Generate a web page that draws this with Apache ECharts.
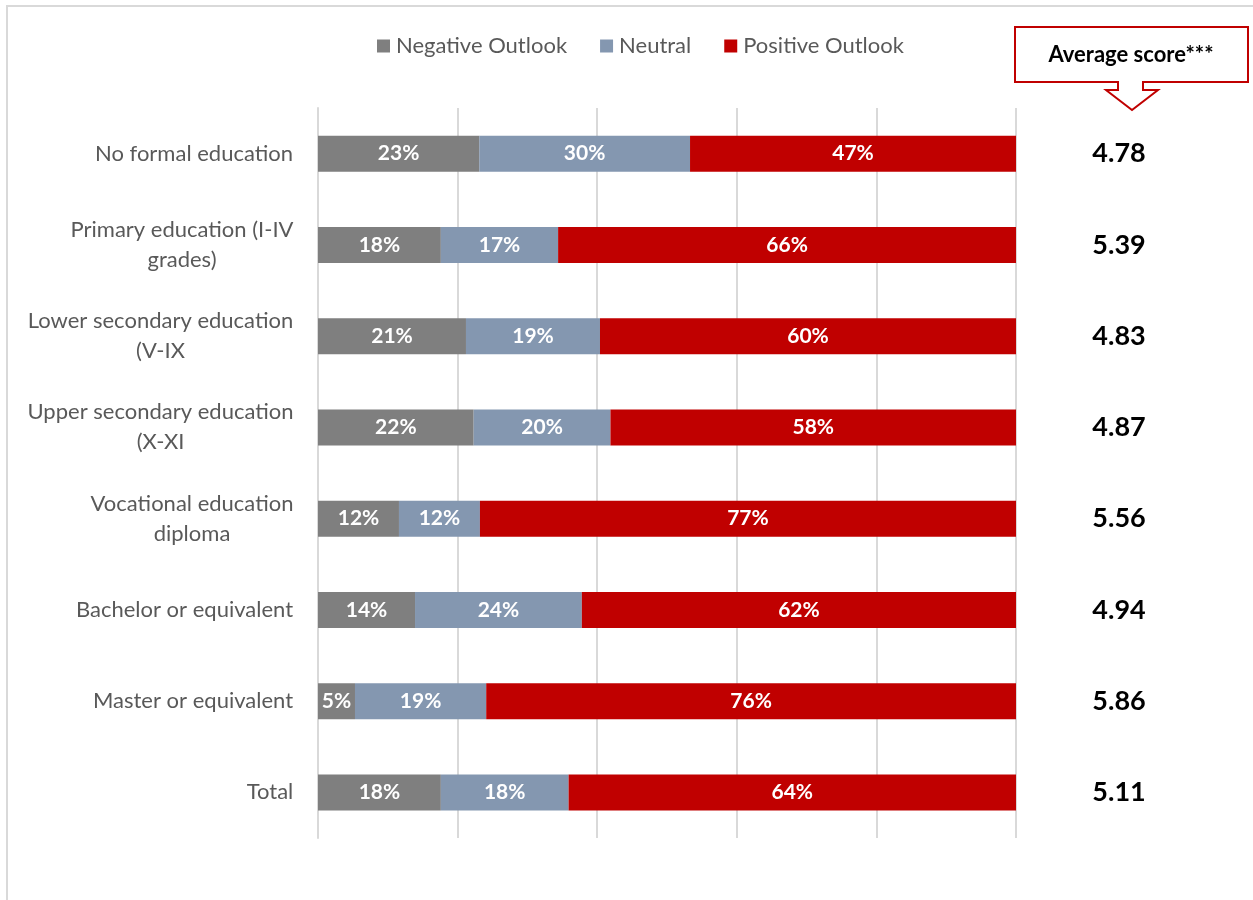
<!DOCTYPE html>
<html>
<head>
<meta charset="utf-8">
<script src="https://cdn.jsdelivr.net/npm/echarts@6/dist/echarts.min.js"></script>
<style>
  html, body { margin: 0; padding: 0; background: #fff; }
  #chart { width: 1253px; height: 900px; }
</style>
</head>
<body>
<div id="chart"></div>
<script>
  // categories, top to bottom
  var categories = [
    'No formal education',
    'Primary education (I-IV\ngrades)',
    'Lower secondary education\n(V-IX',
    'Upper secondary education\n(X-XI',
    'Vocational education\ndiploma',
    'Bachelor or equivalent',
    'Master or equivalent',
    'Total'
  ];
  var seriesNames = ['Negative Outlook', 'Neutral', 'Positive Outlook'];
  var negative = [23.1, 17.6, 21.2, 22.3, 11.6, 13.9, 5.3, 17.6];
  var neutral = [30.2, 16.8, 19.2, 19.6, 11.6, 23.9, 18.8, 18.3];
  var positive = [46.7, 65.6, 59.6, 58.1, 76.8, 62.2, 75.9, 64.1];
  var scores = ['4.78', '5.39', '4.83', '4.87', '5.56', '4.94', '5.86', '5.11'];
  var colors = ['#7f7f7f', '#8497b0', '#c00000'];

  var FONT = 'Lato, "Open Sans", sans-serif';
  var textC = '#595959';
  var labelSize = 22;

  // centre the lines of the two-line labels under each other
  var ctx = document.createElement('canvas').getContext('2d');
  ctx.font = labelSize + 'px Lato';
  var richLabels = {};
  categories.forEach(function(c, i) {
    var w = 0;
    c.split('\n').forEach(function(l) { w = Math.max(w, ctx.measureText(l).width); });
    richLabels['c' + i] = {
      width: Math.ceil(w) + 1,
      align: 'center',
      fontSize: labelSize,
      fontFamily: FONT,
      color: textC,
      lineHeight: 30
    };
  });

  function barSeries(name, data, color) {
    return {
      name: name,
      type: 'bar',
      stack: 'total',
      barWidth: 36,
      data: data,
      itemStyle: { color: color },
      label: {
        show: true,
        position: 'inside',
        color: '#fff',
        fontFamily: FONT,
        fontWeight: 'bold',
        fontSize: 21,
        formatter: function(p) { return Math.round(p.value) + '%'; }
      }
    };
  }

  var chart = echarts.init(document.getElementById('chart'));
  chart.setOption({
    animation: false,
    color: colors,
    legend: {
      data: seriesNames,
      left: 372,
      top: 30,
      icon: 'rect',
      itemWidth: 13,
      itemHeight: 13,
      itemGap: 33,
      textStyle: { color: textC, fontSize: 22, fontFamily: FONT, padding: [0, 0, 0, 1] }
    },
    grid: { left: 318, right: 237, top: 108, bottom: 62, containLabel: false },
    xAxis: {
      type: 'value',
      min: 0,
      max: 100,
      interval: 20,
      axisLabel: { show: false },
      axisLine: { show: false },
      axisTick: { show: false },
      splitLine: { lineStyle: { color: '#d9d9d9', width: 2 } }
    },
    yAxis: [{
      type: 'category',
      data: categories,
      inverse: true,
      axisTick: { show: false },
      axisLine: { show: true, lineStyle: { color: '#d9d9d9', width: 2 } },
      axisLabel: {
        margin: 24,
        rich: richLabels,
        formatter: function(v, i) {
          return v.split('\n').map(function(l) { return '{c' + i + '|' + l + '}'; }).join('\n');
        }
      }
    }, {
      type: 'category',
      data: scores,
      inverse: true,
      position: 'right',
      axisTick: { show: false },
      axisLine: { show: false },
      axisLabel: {
        margin: 103,
        align: 'center',
        color: '#000',
        fontFamily: FONT,
        fontWeight: 'bold',
        fontSize: 27,
        padding: [12, 0, 0, 0]
      }
    }],
    graphic: [{
      type: 'rect',
      shape: { x: 7, y: 6, width: 1270, height: 920 },
      style: { fill: 'none', stroke: '#d9d9d9', lineWidth: 2 },
      silent: true
    }, {
      type: 'polygon',
      shape: {
        points: [[1015, 27], [1248, 27], [1248, 82], [1143, 82], [1143, 90], [1158, 90],
                 [1132, 110], [1106, 90], [1118, 90], [1118, 82], [1015, 82]]
      },
      style: { fill: '#fff', stroke: '#c00000', lineWidth: 2 },
      silent: true
    }, {
      type: 'text',
      x: 1131,
      y: 55,
      style: {
        text: 'Average score***',
        fill: '#000',
        font: 'bold 22px Lato, sans-serif',
        align: 'center',
        verticalAlign: 'middle'
      },
      silent: true
    }],
    series: [
      barSeries(seriesNames[0], negative, colors[0]),
      barSeries(seriesNames[1], neutral, colors[1]),
      barSeries(seriesNames[2], positive, colors[2])
    ]
  });
</script>
</body>
</html>
